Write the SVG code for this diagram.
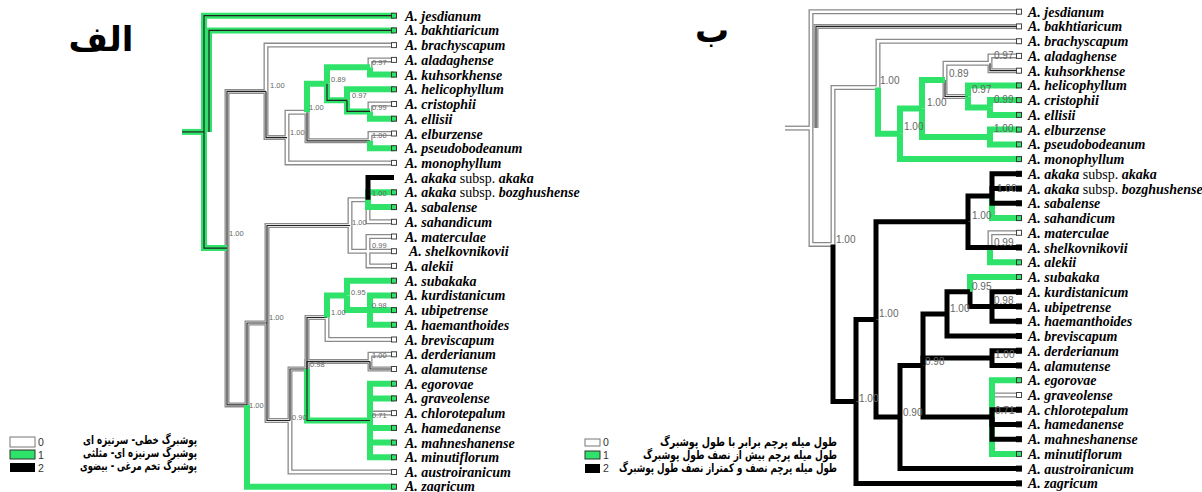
<svg xmlns="http://www.w3.org/2000/svg" xmlns:xlink="http://www.w3.org/1999/xlink" width="1202" height="492" viewBox="0 0 1202 492">
<style>
.wo{fill:none;stroke:#8a8a8a;stroke-width:5}
.wi{fill:none;stroke:#fff;stroke-width:2.4}
.dk{fill:none;stroke:#222;stroke-width:1.2}
.gr{fill:none;stroke:#2fe36a;stroke-width:6}
.bl{fill:none;stroke:#000;stroke-width:5}
.tx{font-family:"Liberation Serif",serif;font-size:14px;font-weight:bold;font-style:italic;fill:#000}
.ss{font-style:normal;font-weight:normal}
.sl{font-family:"Liberation Sans",Arial,sans-serif;font-size:7.5px;fill:#666}
.sr{font-family:"Liberation Sans",Arial,sans-serif;font-size:10px;fill:#666}
.tw{fill:#fff;stroke:#444;stroke-width:1}
.tg{fill:#2fe36a;stroke:#333;stroke-width:1}
.tb{fill:#000;stroke:#000;stroke-width:1}
.fa{font-family:"DejaVu Sans",sans-serif;font-weight:bold;font-size:12px;fill:#000}
.dg{font-family:"Liberation Sans",Arial,sans-serif;font-size:10.5px;fill:#333}
</style>
<defs>
<g id="Lw">
<path d="M266,91.4V45.1H394"/><path d="M287,137.6V112.3H307"/><path d="M287,137.6V162.9H394"/>
<path d="M370,67.2V59.9H394"/><path d="M370,111.4V104H394"/><path d="M370,140.8V133.5H394"/>
<path d="M350,225.5V199.7H368"/><path d="M350,225.5V251.2H368"/><path d="M368,199.7V221.8H394"/>
<path d="M368,251.2V236.5H394"/><path d="M368,251.2H394"/><path d="M368,251.2V265.9H394"/>
<path d="M290,420.5V472H394"/><path d="M327,317.5V339.5H394"/><path d="M370,361.6V354.3H394"/>
<path d="M370,420.5V413.1H394"/>
</g>
<g id="Lwk">
<path d="M227,248.1V91.4H266"/><path d="M227,248.1V404.9H247"/><path d="M266,91.4V137.6H287"/>
<path d="M307,112.3V140.8H370"/><path d="M247,404.9V323H267"/><path d="M267,323V225.5H350"/>
<path d="M267,323V420.5H290"/><path d="M290,420.5V369H307"/><path d="M307,369V317.5H327"/>
<path d="M307,369V361.6H370"/><path d="M370,361.6V369H394"/>
</g>
<g id="Lg">
<path d="M307,112.3V83.8H327"/><path d="M327,83.8V67.2H370"/><path d="M370,67.2V74.6H394"/>
<path d="M347,100.3V89.3H394"/><path d="M370,111.4V118.7H394"/><path d="M370,140.8V148.2H394"/>
<path d="M247,404.9V486.7H394"/><path d="M368,199.7V192.3H394"/><path d="M368,199.7V207.1H394"/>
<path d="M327,317.5V295.4H347"/><path d="M347,295.4V280.7H394"/><path d="M347,295.4V310.1H370"/>
<path d="M370,310.1V295.4H394"/><path d="M370,310.1H394"/><path d="M370,310.1V324.8H394"/>
<path d="M370,420.5V383.7H394"/><path d="M370,420.5V398.4H394"/><path d="M370,420.5V427.9H394"/>
<path d="M370,420.5V442.6H394"/><path d="M370,420.5V457.3H394"/>
</g>
<g id="Lgk">
<path d="M182,131.9H204"/><path d="M204,131.9V15.7H394"/><path d="M209,131.9V30.4H394"/>
<path d="M204,131.9V248.1H227"/><path d="M327,83.8V100.3H347"/><path d="M347,100.3V111.4H370"/>
<path d="M307,369V420.5H370"/>
</g>
<g id="Lb"><path d="M368,199.7V177.6H394"/></g>
<g id="Rw">
<path d="M785,128.1H811"/><path d="M811,128.1V11.7H1019"/><path d="M811,128.1V244.4H833"/>
<path d="M833,244.4V87.5H878"/><path d="M878,87.5V41.2H1019"/><path d="M945,79.9V63.3H990"/>
<path d="M990,63.3V55.9H1019"/><path d="M990,247.5V232.8H1019"/><path d="M992,417.1V395H1019"/>
</g>
<g id="Rwk">
<path d="M816,128.1V26.4H1019"/><path d="M945,79.9V96.5H968"/><path d="M990,63.3V70.7H1019"/>
</g>
<g id="Rg">
<path d="M878,87.5V133.8H900"/><path d="M900,133.8V108.4H922"/><path d="M900,133.8V159.1H1019"/>
<path d="M922,108.4V79.9H945"/><path d="M922,108.4V137H990"/><path d="M968,96.5V85.4H1019"/>
<path d="M968,96.5V107.5H990"/><path d="M990,107.5V100.1H1019"/><path d="M990,107.5V114.9H1019"/>
<path d="M990,137V129.6H1019"/><path d="M990,137V144.4H1019"/><path d="M992,196V218.1H1019"/>
<path d="M990,247.5V262.3H1019"/><path d="M970,291.8V277H1019"/><path d="M992,417.1V380.2H1019"/>
<path d="M992,417.1V453.9H1019"/>
</g>
<g id="Rb">
<path d="M833,244.4V401.4H856"/><path d="M856,401.4V319.4H876"/><path d="M856,401.4V483.4H1019"/>
<path d="M876,319.4V221.7H968"/><path d="M876,319.4V417.1H900"/><path d="M968,221.7V196H992"/>
<path d="M968,221.7V247.5H990"/><path d="M992,196V173.8H1019"/><path d="M992,196V188.6H1019"/>
<path d="M992,196V203.3H1019"/><path d="M990,247.5H1019"/><path d="M900,417.1V365.5H923"/>
<path d="M900,417.1V468.6H1019"/><path d="M923,365.5V313.9H947"/><path d="M923,365.5V358.1H992"/>
<path d="M923,365.5V417.1H992"/><path d="M947,313.9V291.8H970"/><path d="M947,313.9V336H1019"/>
<path d="M970,291.8V306.5H992"/><path d="M992,306.5V291.8H1019"/><path d="M992,306.5H1019"/>
<path d="M992,306.5V321.2H1019"/><path d="M992,358.1V350.7H1019"/><path d="M992,358.1V365.5H1019"/>
<path d="M992,417.1V409.7H1019"/><path d="M992,417.1V424.4H1019"/><path d="M992,417.1V439.2H1019"/>
</g>
</defs>
<rect width="1202" height="492" fill="#fff"/>
<g id="connectors">
<use xlink:href="#Lw" class="wo"/><use xlink:href="#Lwk" class="wo"/>
<use xlink:href="#Lw" class="wi"/><use xlink:href="#Lwk" class="wi"/><use xlink:href="#Lwk" class="dk"/>
<use xlink:href="#Lg" class="gr"/><use xlink:href="#Lgk" class="gr"/><use xlink:href="#Lgk" class="dk"/>
<use xlink:href="#Lb" class="bl"/>
<use xlink:href="#Rw" class="wo"/><use xlink:href="#Rwk" class="wo"/>
<use xlink:href="#Rw" class="wi"/><use xlink:href="#Rwk" class="wi"/><use xlink:href="#Rwk" class="dk"/>
<use xlink:href="#Rg" class="gr"/><use xlink:href="#Rb" class="bl"/>
</g>
<g id="support-left" class="sl">
<text x="229" y="236">1.00</text><text x="270" y="88">1.00</text><text x="290" y="135">1.00</text>
<text x="309" y="110">1.00</text><text x="331" y="82">0.89</text><text x="372" y="65">0.97</text>
<text x="352" y="98">0.97</text><text x="372" y="110">0.99</text><text x="372" y="138">1.00</text>
<text x="249" y="408">1.00</text><text x="269" y="320">1.00</text><text x="352" y="225">1.00</text>
<text x="372" y="196">1.00</text><text x="372" y="248">0.99</text><text x="292" y="420">0.90</text>
<text x="310" y="367">0.98</text><text x="331" y="315">1.00</text><text x="351" y="295">0.95</text>
<text x="372" y="308">0.98</text><text x="372" y="358">1.00</text><text x="372" y="418">0.71</text>
</g>
<g id="support-right" class="sr">
<text x="836" y="243">1.00</text><text x="880" y="84">1.00</text><text x="904" y="130">1.00</text>
<text x="927" y="106">1.00</text><text x="949" y="77">0.89</text><text x="994" y="59">0.97</text>
<text x="972" y="93">0.97</text><text x="994" y="103">0.99</text><text x="994" y="132">1.00</text>
<text x="859" y="402">1.00</text><text x="879" y="317">1.00</text><text x="972" y="219">1.00</text>
<text x="997" y="192">1.00</text><text x="994" y="246">0.99</text><text x="903" y="416">0.90</text>
<text x="925" y="365">0.98</text><text x="950" y="312">1.00</text><text x="972" y="290">0.95</text>
<text x="994" y="304">0.98</text><text x="995" y="358">1.00</text><text x="995" y="414">0.71</text>
</g>
<g id="taxa-left" class="tx">
<g id="L-jesdianum"><rect class="tg" x="391.5" y="13.2" width="5" height="5"/><text x="405" y="20.7">A. jesdianum</text></g>
<g id="L-bakhtiaricum"><rect class="tg" x="391.5" y="27.9" width="5" height="5"/><text x="405" y="35.4">A. bakhtiaricum</text></g>
<g id="L-brachyscapum"><rect class="tw" x="391.5" y="42.6" width="5" height="5"/><text x="405" y="50.1">A. brachyscapum</text></g>
<g id="L-aladaghense"><rect class="tw" x="391.5" y="57.4" width="5" height="5"/><text x="405" y="64.9">A. aladaghense</text></g>
<g id="L-kuhsorkhense"><rect class="tg" x="391.5" y="72.1" width="5" height="5"/><text x="405" y="79.6">A. kuhsorkhense</text></g>
<g id="L-helicophyllum"><rect class="tg" x="391.5" y="86.8" width="5" height="5"/><text x="405" y="94.3">A. helicophyllum</text></g>
<g id="L-cristophii"><rect class="tw" x="391.5" y="101.5" width="5" height="5"/><text x="405" y="109">A. cristophii</text></g>
<g id="L-ellisii"><rect class="tg" x="391.5" y="116.2" width="5" height="5"/><text x="405" y="123.7">A. ellisii</text></g>
<g id="L-elburzense"><rect class="tw" x="391.5" y="131" width="5" height="5"/><text x="405" y="138.5">A. elburzense</text></g>
<g id="L-pseudobodeanum"><rect class="tg" x="391.5" y="145.7" width="5" height="5"/><text x="405" y="153.2">A. pseudobodeanum</text></g>
<g id="L-monophyllum"><rect class="tw" x="391.5" y="160.4" width="5" height="5"/><text x="405" y="167.9">A. monophyllum</text></g>
<g id="L-akaka"><text x="405" y="182.6">A. akaka<tspan class="ss"> subsp. </tspan>akaka</text></g>
<g id="L-bozghushense"><rect class="tg" x="391.5" y="189.8" width="5" height="5"/><text x="405" y="197.3">A. akaka<tspan class="ss"> subsp. </tspan>bozghushense</text></g>
<g id="L-sabalense"><rect class="tg" x="391.5" y="204.6" width="5" height="5"/><text x="405" y="212.1">A. sabalense</text></g>
<g id="L-sahandicum"><rect class="tw" x="391.5" y="219.3" width="5" height="5"/><text x="405" y="226.8">A. sahandicum</text></g>
<g id="L-materculae"><rect class="tw" x="391.5" y="234" width="5" height="5"/><text x="405" y="241.5">A. materculae</text></g>
<g id="L-shelkovnikovii"><rect class="tw" x="391.5" y="248.7" width="5" height="5"/><text x="409" y="256.2">A. shelkovnikovii</text></g>
<g id="L-alekii"><rect class="tw" x="391.5" y="263.4" width="5" height="5"/><text x="405" y="270.9">A. alekii</text></g>
<g id="L-subakaka"><rect class="tg" x="391.5" y="278.2" width="5" height="5"/><text x="405" y="285.7">A. subakaka</text></g>
<g id="L-kurdistanicum"><rect class="tg" x="391.5" y="292.9" width="5" height="5"/><text x="405" y="300.4">A. kurdistanicum</text></g>
<g id="L-ubipetrense"><rect class="tg" x="391.5" y="307.6" width="5" height="5"/><text x="405" y="315.1">A. ubipetrense</text></g>
<g id="L-haemanthoides"><rect class="tg" x="391.5" y="322.3" width="5" height="5"/><text x="405" y="329.8">A. haemanthoides</text></g>
<g id="L-breviscapum"><rect class="tw" x="391.5" y="337" width="5" height="5"/><text x="405" y="344.5">A. breviscapum</text></g>
<g id="L-derderianum"><rect class="tw" x="391.5" y="351.8" width="5" height="5"/><text x="405" y="359.3">A. derderianum</text></g>
<g id="L-alamutense"><rect class="tw" x="391.5" y="366.5" width="5" height="5"/><text x="405" y="374">A. alamutense</text></g>
<g id="L-egorovae"><rect class="tg" x="391.5" y="381.2" width="5" height="5"/><text x="405" y="388.7">A. egorovae</text></g>
<g id="L-graveolense"><rect class="tg" x="391.5" y="395.9" width="5" height="5"/><text x="405" y="403.4">A. graveolense</text></g>
<g id="L-chlorotepalum"><rect class="tw" x="391.5" y="410.6" width="5" height="5"/><text x="405" y="418.1">A. chlorotepalum</text></g>
<g id="L-hamedanense"><rect class="tg" x="391.5" y="425.4" width="5" height="5"/><text x="405" y="432.9">A. hamedanense</text></g>
<g id="L-mahneshanense"><rect class="tg" x="391.5" y="440.1" width="5" height="5"/><text x="405" y="447.6">A. mahneshanense</text></g>
<g id="L-minutiflorum"><rect class="tg" x="391.5" y="454.8" width="5" height="5"/><text x="405" y="462.3">A. minutiflorum</text></g>
<g id="L-austroiranicum"><rect class="tw" x="391.5" y="469.5" width="5" height="5"/><text x="405" y="477">A. austroiranicum</text></g>
<g id="L-zagricum"><rect class="tg" x="391.5" y="484.2" width="5" height="5"/><text x="405" y="490.5">A. zagricum</text></g>
</g>
<g id="taxa-right" class="tx">
<g id="R-jesdianum"><rect class="tw" x="1016.5" y="9.2" width="5" height="5"/><text x="1028" y="16.7">A. jesdianum</text></g>
<g id="R-bakhtiaricum"><rect class="tw" x="1016.5" y="23.9" width="5" height="5"/><text x="1028" y="31.4">A. bakhtiaricum</text></g>
<g id="R-brachyscapum"><rect class="tw" x="1016.5" y="38.7" width="5" height="5"/><text x="1028" y="46.2">A. brachyscapum</text></g>
<g id="R-aladaghense"><rect class="tw" x="1016.5" y="53.4" width="5" height="5"/><text x="1028" y="60.9">A. aladaghense</text></g>
<g id="R-kuhsorkhense"><rect class="tw" x="1016.5" y="68.2" width="5" height="5"/><text x="1028" y="75.7">A. kuhsorkhense</text></g>
<g id="R-helicophyllum"><rect class="tg" x="1016.5" y="82.9" width="5" height="5"/><text x="1028" y="90.4">A. helicophyllum</text></g>
<g id="R-cristophii"><rect class="tg" x="1016.5" y="97.6" width="5" height="5"/><text x="1028" y="105.1">A. cristophii</text></g>
<g id="R-ellisii"><rect class="tg" x="1016.5" y="112.4" width="5" height="5"/><text x="1028" y="119.9">A. ellisii</text></g>
<g id="R-elburzense"><rect class="tg" x="1016.5" y="127.1" width="5" height="5"/><text x="1028" y="134.6">A. elburzense</text></g>
<g id="R-pseudobodeanum"><rect class="tg" x="1016.5" y="141.9" width="5" height="5"/><text x="1028" y="149.4">A. pseudobodeanum</text></g>
<g id="R-monophyllum"><rect class="tg" x="1016.5" y="156.6" width="5" height="5"/><text x="1028" y="164.1">A. monophyllum</text></g>
<g id="R-akaka"><rect class="tb" x="1016.5" y="171.3" width="5" height="5"/><text x="1028" y="178.8">A. akaka<tspan class="ss"> subsp. </tspan>akaka</text></g>
<g id="R-bozghushense"><rect class="tb" x="1016.5" y="186.1" width="5" height="5"/><text x="1028" y="193.6">A. akaka<tspan class="ss"> subsp. </tspan>bozghushense</text></g>
<g id="R-sabalense"><rect class="tb" x="1016.5" y="200.8" width="5" height="5"/><text x="1028" y="208.3">A. sabalense</text></g>
<g id="R-sahandicum"><rect class="tg" x="1016.5" y="215.6" width="5" height="5"/><text x="1028" y="223.1">A. sahandicum</text></g>
<g id="R-materculae"><rect class="tw" x="1016.5" y="230.3" width="5" height="5"/><text x="1028" y="237.8">A. materculae</text></g>
<g id="R-shelkovnikovii"><rect class="tb" x="1016.5" y="245" width="5" height="5"/><text x="1028" y="252.5">A. shelkovnikovii</text></g>
<g id="R-alekii"><rect class="tg" x="1016.5" y="259.8" width="5" height="5"/><text x="1028" y="267.3">A. alekii</text></g>
<g id="R-subakaka"><rect class="tg" x="1016.5" y="274.5" width="5" height="5"/><text x="1028" y="282">A. subakaka</text></g>
<g id="R-kurdistanicum"><rect class="tb" x="1016.5" y="289.3" width="5" height="5"/><text x="1028" y="296.8">A. kurdistanicum</text></g>
<g id="R-ubipetrense"><rect class="tb" x="1016.5" y="304" width="5" height="5"/><text x="1028" y="311.5">A. ubipetrense</text></g>
<g id="R-haemanthoides"><rect class="tb" x="1016.5" y="318.7" width="5" height="5"/><text x="1028" y="326.2">A. haemanthoides</text></g>
<g id="R-breviscapum"><rect class="tb" x="1016.5" y="333.5" width="5" height="5"/><text x="1028" y="341">A. breviscapum</text></g>
<g id="R-derderianum"><rect class="tb" x="1016.5" y="348.2" width="5" height="5"/><text x="1028" y="355.7">A. derderianum</text></g>
<g id="R-alamutense"><rect class="tb" x="1016.5" y="363" width="5" height="5"/><text x="1028" y="370.5">A. alamutense</text></g>
<g id="R-egorovae"><rect class="tg" x="1016.5" y="377.7" width="5" height="5"/><text x="1028" y="385.2">A. egorovae</text></g>
<g id="R-graveolense"><rect class="tw" x="1016.5" y="392.5" width="5" height="5"/><text x="1028" y="400">A. graveolense</text></g>
<g id="R-chlorotepalum"><rect class="tb" x="1016.5" y="407.2" width="5" height="5"/><text x="1028" y="414.7">A. chlorotepalum</text></g>
<g id="R-hamedanense"><rect class="tb" x="1016.5" y="421.9" width="5" height="5"/><text x="1028" y="429.4">A. hamedanense</text></g>
<g id="R-mahneshanense"><rect class="tb" x="1016.5" y="436.7" width="5" height="5"/><text x="1028" y="444.2">A. mahneshanense</text></g>
<g id="R-minutiflorum"><rect class="tg" x="1016.5" y="451.4" width="5" height="5"/><text x="1028" y="458.9">A. minutiflorum</text></g>
<g id="R-austroiranicum"><rect class="tb" x="1016.5" y="466.1" width="5" height="5"/><text x="1028" y="473.6">A. austroiranicum</text></g>
<g id="R-zagricum"><rect class="tb" x="1016.5" y="480.9" width="5" height="5"/><text x="1028" y="488.4">A. zagricum</text></g>
</g>
<g id="legend-left">
<rect x="10" y="437" width="25" height="10" fill="#fff" stroke="#777"/>
<rect x="10" y="450" width="25" height="9" fill="#2fe36a" stroke="#333"/>
<rect x="10" y="463" width="25" height="9" fill="#000"/>
<text class="dg" x="38" y="446">0</text><text class="dg" x="38" y="459">1</text><text class="dg" x="38" y="472">2</text>
<text class="fa" x="197" y="444" text-anchor="end" textLength="114" lengthAdjust="spacingAndGlyphs">پوشبرگ خطی- سرنیزه ای</text>
<text class="fa" x="197" y="457" text-anchor="end" textLength="114" lengthAdjust="spacingAndGlyphs">پوشبرگ سرنیزه ای- مثلثی</text>
<text class="fa" x="197" y="470" text-anchor="end" textLength="117" lengthAdjust="spacingAndGlyphs">پوشبرگ تخم مرغی - بیضوی</text>
</g>
<g id="legend-right">
<rect x="585" y="439" width="15" height="7" fill="#fff" stroke="#777"/>
<rect x="585" y="451" width="15" height="8" fill="#2fe36a" stroke="#333"/>
<rect x="585" y="464" width="15" height="9" fill="#000"/>
<text class="dg" x="603" y="446">0</text><text class="dg" x="603" y="459">1</text><text class="dg" x="603" y="472">2</text>
<text class="fa" x="837" y="446" text-anchor="end" textLength="177" lengthAdjust="spacingAndGlyphs">طول میله پرچم برابر با طول پوشبرگ</text>
<text class="fa" x="837" y="459" text-anchor="end" textLength="194" lengthAdjust="spacingAndGlyphs">طول میله پرچم بیش از نصف طول پوشبرگ</text>
<text class="fa" x="837" y="472" text-anchor="end" textLength="218" lengthAdjust="spacingAndGlyphs">طول میله پرچم نصف و کمتراز نصف طول پوشبرگ</text>
</g>
<g id="titles" font-family="'DejaVu Sans',sans-serif" font-weight="bold" fill="#000">
<text x="101" y="51" font-size="34" text-anchor="middle">الف</text>
<text x="712" y="42" font-size="34" text-anchor="middle">ب</text>
</g>
</svg>
